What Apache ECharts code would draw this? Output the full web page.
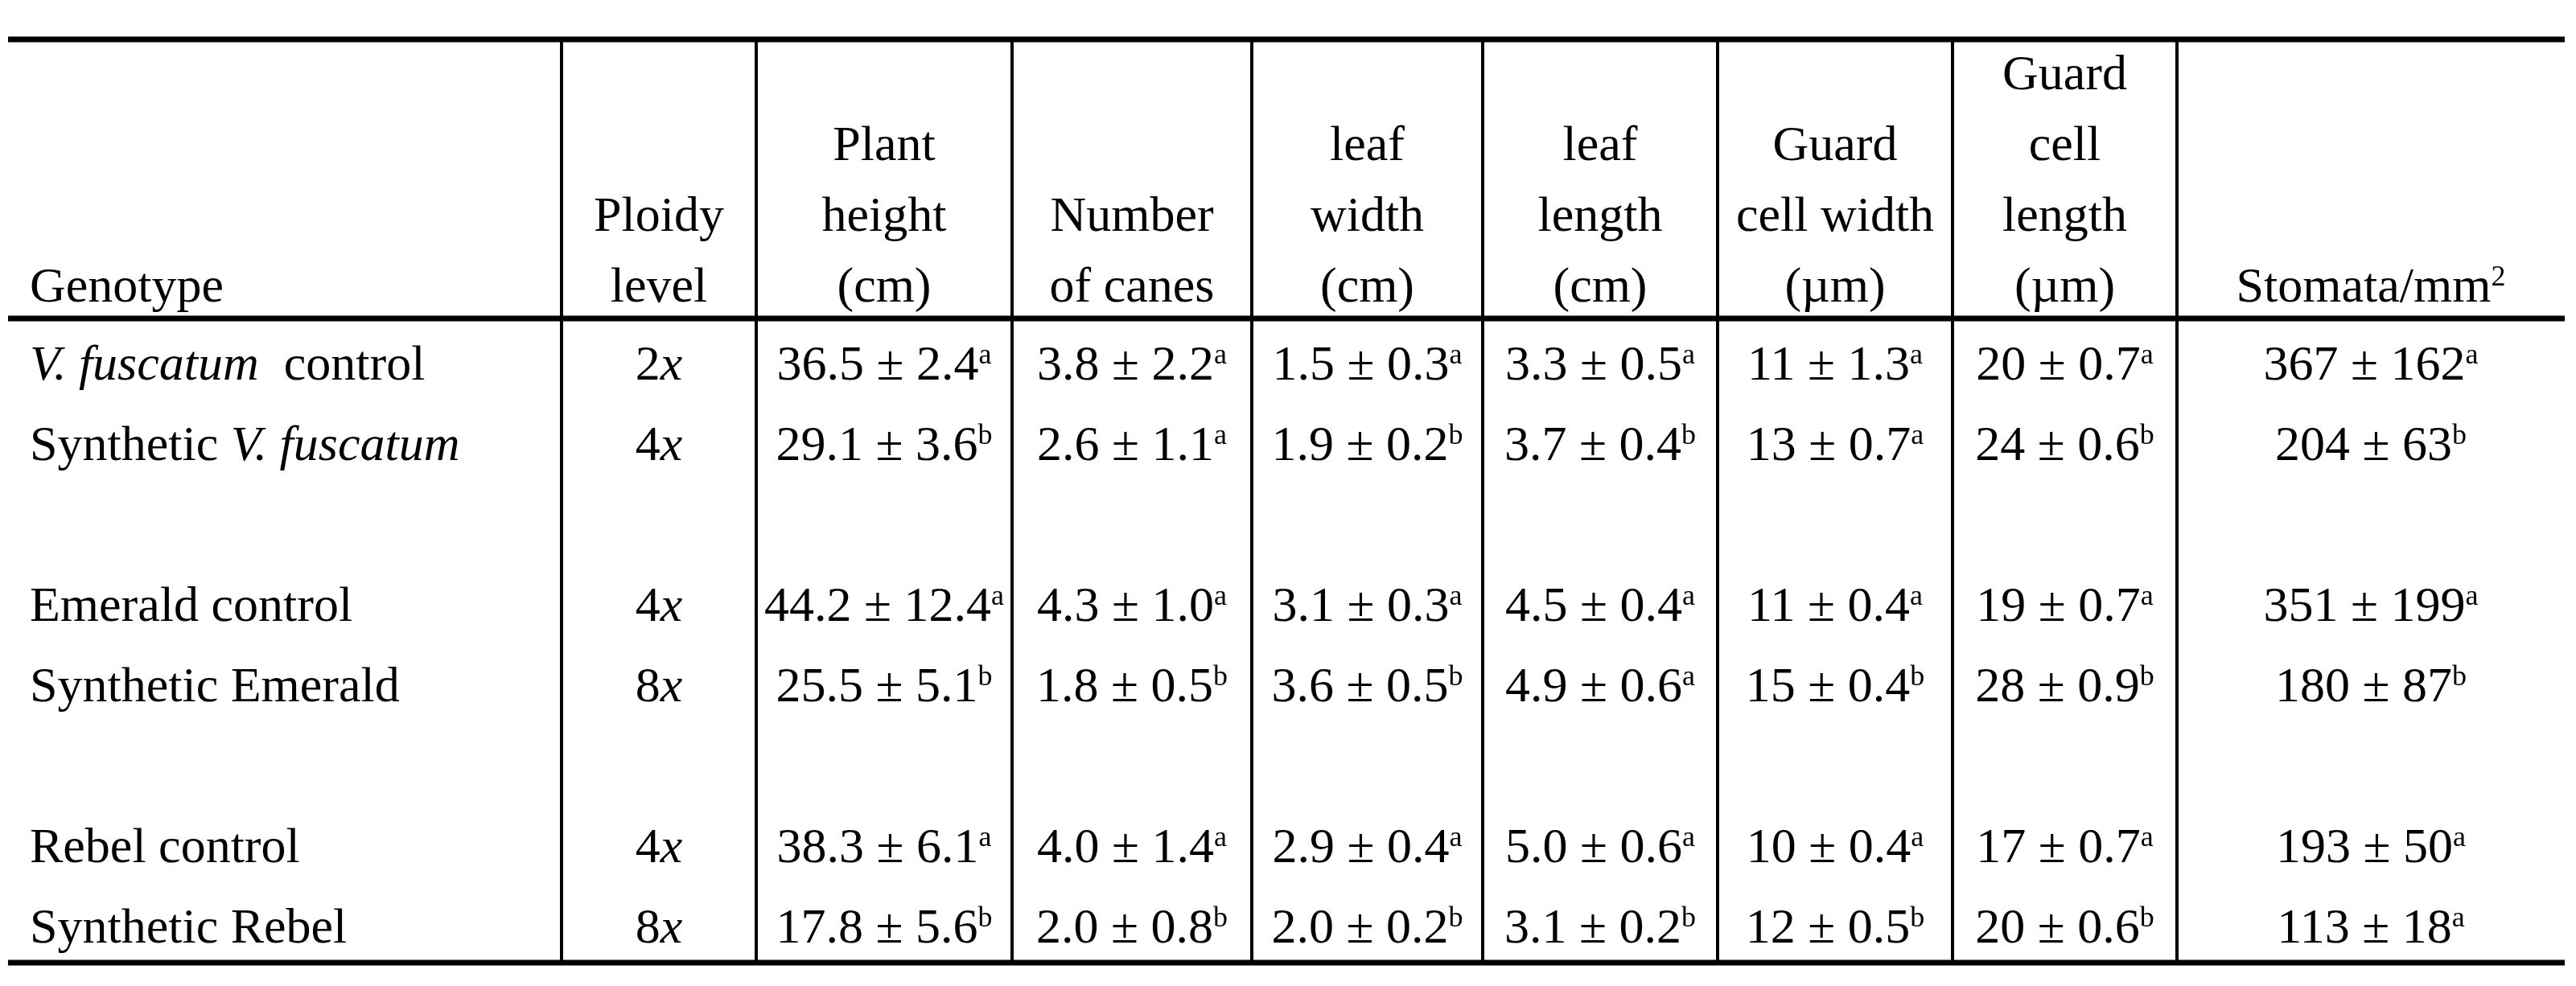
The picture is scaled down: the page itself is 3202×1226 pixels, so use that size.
<!DOCTYPE html>
<html><head><meta charset="utf-8">
<script src="https://cdn.jsdelivr.net/npm/echarts@6/dist/echarts.min.js"></script>
<style>html,body{margin:0;background:#fff}#c{width:3202px;height:1226px}</style>
</head><body><div id="c"></div>
<script>
// column edges and header text
const colEdges = [10, 698, 940, 1258, 1556, 1843, 2135, 2427, 2706, 3188];
const headers = [
  ['Genotype'], ['Ploidy', 'level'], ['Plant', 'height', '(cm)'], ['Number', 'of canes'],
  ['leaf', 'width', '(cm)'], ['leaf', 'length', '(cm)'], ['Guard', 'cell width', '(\u00b5m)'],
  ['Guard', 'cell', 'length', '(\u00b5m)'], ['Stomata/mm{s|2}']
];
// genotype names ({i|..} = italic)
const genotypes = ['{i|V. fuscatum}  control', 'Synthetic {i|V. fuscatum}', 'Emerald control',
  'Synthetic Emerald', 'Rebel control', 'Synthetic Rebel'];
const rowSlots = [0, 1, 3, 4, 6, 7];
const ploidy = ['2', '4', '4', '8', '4', '8'];
const plantHeight = ['36.5 \u00b1 2.4|a', '29.1 \u00b1 3.6|b', '44.2 \u00b1 12.4|a', '25.5 \u00b1 5.1|b', '38.3 \u00b1 6.1|a', '17.8 \u00b1 5.6|b'];
const canes = ['3.8 \u00b1 2.2|a', '2.6 \u00b1 1.1|a', '4.3 \u00b1 1.0|a', '1.8 \u00b1 0.5|b', '4.0 \u00b1 1.4|a', '2.0 \u00b1 0.8|b'];
const leafWidth = ['1.5 \u00b1 0.3|a', '1.9 \u00b1 0.2|b', '3.1 \u00b1 0.3|a', '3.6 \u00b1 0.5|b', '2.9 \u00b1 0.4|a', '2.0 \u00b1 0.2|b'];
const leafLength = ['3.3 \u00b1 0.5|a', '3.7 \u00b1 0.4|b', '4.5 \u00b1 0.4|a', '4.9 \u00b1 0.6|a', '5.0 \u00b1 0.6|a', '3.1 \u00b1 0.2|b'];
const guardWidth = ['11 \u00b1 1.3|a', '13 \u00b1 0.7|a', '11 \u00b1 0.4|a', '15 \u00b1 0.4|b', '10 \u00b1 0.4|a', '12 \u00b1 0.5|b'];
const guardLength = ['20 \u00b1 0.7|a', '24 \u00b1 0.6|b', '19 \u00b1 0.7|a', '28 \u00b1 0.9|b', '17 \u00b1 0.7|a', '20 \u00b1 0.6|b'];
const stomata = ['367 \u00b1 162|a', '204 \u00b1 63|b', '351 \u00b1 199|a', '180 \u00b1 87|b', '193 \u00b1 50|a', '113 \u00b1 18|a'];

const FONT = '"Liberation Serif", "Times New Roman", serif';
const FS = 62, TOP = 49, HEAD = 396, BOTTOM = 1197, ROW0 = 456, ROWH = 100, LINEH = 88;
const rich = {
  i: { fontStyle: 'italic', fontSize: FS, fontFamily: FONT, fill: '#000' },
  s: { fontSize: 36, fontFamily: FONT, fill: '#000', verticalAlign: 'top', padding: [0, 0, 26, 0] }
};
function txt(x, y, t, align) {
  return { type: 'text', x: x, y: y, style: { text: t, rich: rich, font: FS + 'px ' + FONT,
    fontSize: FS, fontFamily: FONT, fill: '#000', align: align || 'center', verticalAlign: 'middle' } };
}
const els = [];
els.push({ type: 'line', shape: { x1: colEdges[0], y1: TOP, x2: colEdges[9], y2: TOP }, style: { stroke: '#000', lineWidth: 7 } });
els.push({ type: 'line', shape: { x1: colEdges[0], y1: HEAD, x2: colEdges[9], y2: HEAD }, style: { stroke: '#000', lineWidth: 7 } });
els.push({ type: 'line', shape: { x1: colEdges[0], y1: BOTTOM, x2: colEdges[9], y2: BOTTOM }, style: { stroke: '#000', lineWidth: 7 } });
for (let k = 1; k < 9; k++) {
  els.push({ type: 'line', shape: { x1: colEdges[k], y1: TOP, x2: colEdges[k], y2: BOTTOM }, style: { stroke: '#000', lineWidth: 4 } });
}
headers.forEach(function (lines, c) {
  const cx = c === 0 ? colEdges[0] + 27 : (colEdges[c] + colEdges[c + 1]) / 2;
  lines.forEach(function (l, j) {
    const y = 359 - (lines.length - 1 - j) * LINEH;
    els.push(txt(cx, y, l, c === 0 ? 'left' : 'center'));
  });
});
const cols = [plantHeight, canes, leafWidth, leafLength, guardWidth, guardLength, stomata];
rowSlots.forEach(function (slot, r) {
  const y = ROW0 + slot * ROWH;
  els.push(txt(colEdges[0] + 27, y, genotypes[r], 'left'));
  els.push(txt((colEdges[1] + colEdges[2]) / 2, y, ploidy[r] + '{i|x}'));
  cols.forEach(function (arr, k) {
    const parts = arr[r].split('|');
    const c = k + 2;
    els.push(txt((colEdges[c] + colEdges[c + 1]) / 2, y, parts[0] + '{s|' + parts[1] + '}'));
  });
});
const chart = echarts.init(document.getElementById('c'));
chart.setOption({ backgroundColor: '#fff', animation: false, graphic: els });
</script></body></html>
